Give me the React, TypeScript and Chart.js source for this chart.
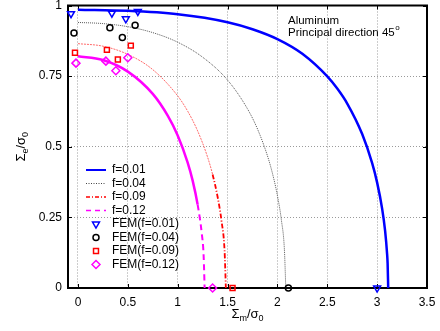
import React, { useEffect, useRef } from 'react';
import { Chart, registerables } from 'chart.js';
import { drawPoint } from 'chart.js/helpers';

Chart.register(...registerables);

const FONT = '"Liberation Sans", Arial, Helvetica, sans-serif';

// Axis ticks
const xTickValues = [0, 0.5, 1, 1.5, 2, 2.5, 3, 3.5];
const yTickValues = [0, 0.25, 0.5, 0.75, 1];

// Analytical curves (Sigma_m / sigma_0, Sigma_e / sigma_0)
const f001M = [0, 0.5, 1.0, 1.5, 1.75, 2.0, 2.25, 2.5, 2.6, 2.7, 2.85, 2.95, 3.0, 3.05, 3.08, 3.1, 3.105, 3.111];
const f001E = [0.985, 0.981, 0.969, 0.941, 0.916, 0.881, 0.829, 0.749, 0.706, 0.653, 0.545, 0.442, 0.373, 0.281, 0.202, 0.12, 0.088, 0];

const f004M = [0, 0.25, 0.5, 0.75, 1.0, 1.25, 1.5, 1.7, 1.8, 1.9, 1.95, 2.0, 2.04, 2.07, 2.084];
const f004E = [0.94, 0.936, 0.925, 0.904, 0.87, 0.817, 0.736, 0.634, 0.563, 0.468, 0.406, 0.327, 0.24, 0.136, 0];

const f009M = [0, 0.25, 0.5, 0.75, 1.0, 1.1, 1.2, 1.3, 1.35, 1.4, 1.44, 1.47, 1.483];
const f009E = [0.865, 0.856, 0.827, 0.773, 0.68, 0.626, 0.556, 0.463, 0.402, 0.323, 0.236, 0.132, 0];

const f012M = [0, 0.25, 0.5, 0.75, 0.9, 1.0, 1.1, 1.15, 1.2, 1.24, 1.26, 1.27];
const f012E = [0.82, 0.807, 0.766, 0.687, 0.61, 0.54, 0.444, 0.38, 0.295, 0.197, 0.115, 0];

// FEM results
const fem001M = [-0.07, 0.34, 0.48, 0.6, 3.0];
const fem001E = [0.971, 0.973, 0.953, 0.979, 0];
const fem004M = [-0.04, 0.32, 0.445, 0.573, 2.11];
const fem004E = [0.903, 0.921, 0.887, 0.93, 0];
const fem009M = [-0.03, 0.29, 0.4, 0.53, 1.55];
const fem009E = [0.833, 0.843, 0.809, 0.858, 0];
const fem012M = [-0.02, 0.28, 0.38, 0.5, 1.35];
const fem012E = [0.796, 0.803, 0.769, 0.815, 0];

const seriesLabels = ['f=0.01', 'f=0.04', 'f=0.09', 'f=0.12', 'FEM(f=0.01)', 'FEM(f=0.04)', 'FEM(f=0.09)', 'FEM(f=0.12)'];

const zip = (xs: number[], ys: number[]) => xs.map((x, i) => ({ x, y: ys[i] }));

const legendLineStyles = [
  { color: '#0000ff', width: 2, dash: [] as number[] },
  { color: '#444444', width: 1, dash: [1, 1.5] },
  { color: '#ff0000', width: 1.5, dash: [4, 2, 1, 2] },
  { color: '#ff00ff', width: 1.5, dash: [5, 4] },
];

function drawParts(ctx: CanvasRenderingContext2D, parts: { t: string; sub: boolean }[], cx: number, cy: number, rotate: boolean) {
  ctx.save();
  ctx.translate(cx, cy);
  if (rotate) ctx.rotate(-Math.PI / 2);
  const main = `13px ${FONT}`;
  const small = `9px ${FONT}`;
  let total = 0;
  for (const p of parts) {
    ctx.font = p.sub ? small : main;
    total += ctx.measureText(p.t).width;
  }
  let x = -total / 2;
  ctx.fillStyle = '#000';
  ctx.textAlign = 'left';
  ctx.textBaseline = 'alphabetic';
  for (const p of parts) {
    ctx.font = p.sub ? small : main;
    ctx.fillText(p.t, x, p.sub ? 7 : 4);
    x += ctx.measureText(p.t).width;
  }
  ctx.restore();
}

const framePlugin = {
  id: 'frame',
  beforeDatasetsDraw(chart: any) {
    const { ctx, chartArea: a, scales } = chart;
    ctx.save();
    ctx.setLineDash([]);
    ctx.strokeStyle = '#000';
    ctx.lineWidth = 1;
    ctx.beginPath();
    for (const v of xTickValues) {
      const px = Math.round(scales.x.getPixelForValue(v)) + 0.5;
      ctx.moveTo(px, a.bottom);
      ctx.lineTo(px, a.bottom - 4);
      ctx.moveTo(px, a.top);
      ctx.lineTo(px, a.top + 4);
    }
    for (const v of yTickValues) {
      const py = Math.round(scales.y.getPixelForValue(v)) + 0.5;
      ctx.moveTo(a.left, py);
      ctx.lineTo(a.left + 4, py);
      ctx.moveTo(a.right, py);
      ctx.lineTo(a.right - 4, py);
    }
    ctx.stroke();
    ctx.lineWidth = 2;
    ctx.strokeRect(a.left, a.top, a.right - a.left, a.bottom - a.top);
    ctx.restore();
  },
  afterDraw(chart: any) {
    const { ctx, chartArea: a } = chart;
    ctx.save();
    // Legend
    const x0 = a.left + 18;
    const x1 = a.left + 38;
    const tx = a.left + 44;
    const y0 = a.bottom - 118;
    ctx.font = `12px ${FONT}`;
    ctx.textBaseline = 'middle';
    ctx.textAlign = 'left';
    chart.data.datasets.forEach((ds: any, i: number) => {
      const y = y0 + i * 13.5;
      if (i < 4) {
        const st = legendLineStyles[i];
        ctx.save();
        ctx.strokeStyle = st.color;
        ctx.lineWidth = st.width;
        ctx.setLineDash(st.dash);
        ctx.beginPath();
        ctx.moveTo(x0, y);
        ctx.lineTo(x1, y);
        ctx.stroke();
        ctx.restore();
      } else {
        ctx.save();
        ctx.strokeStyle = ds.borderColor;
        ctx.fillStyle = 'rgba(0,0,0,0)';
        ctx.lineWidth = 1.5;
        drawPoint(ctx, {
          pointStyle: ds.pointStyle,
          rotation: ds.pointRotation || 0,
          radius: ds.pointRadius,
          borderWidth: 1.5,
        } as any, (x0 + x1) / 2, y);
        ctx.restore();
      }
      ctx.fillStyle = '#000';
      ctx.fillText(ds.label, tx, y);
    });
    // Annotation
    ctx.font = `11.5px ${FONT}`;
    ctx.textBaseline = 'alphabetic';
    ctx.fillText('Aluminum', 288, 24);
    const line2 = 'Principal direction 45';
    ctx.fillText(line2, 288, 36);
    const w = ctx.measureText(line2).width;
    ctx.font = `8px ${FONT}`;
    ctx.fillText('o', 288 + w + 0.5, 30);
    ctx.restore();
    // Axis titles
    drawParts(ctx, [
      { t: 'Σ', sub: false }, { t: 'm', sub: true }, { t: '/σ', sub: false }, { t: '0', sub: true },
    ], (a.left + a.right) / 2, 314, false);
    drawParts(ctx, [
      { t: 'Σ', sub: false }, { t: 'e', sub: true }, { t: '/σ', sub: false }, { t: '0', sub: true },
    ], 21, (a.top + a.bottom) / 2, true);
  },
};

export default function App() {
  const ref = useRef<HTMLCanvasElement>(null);
  useEffect(() => {
    document.body.style.margin = '0';
    const lineBase = {
      showLine: true,
      pointRadius: 0,
      pointHoverRadius: 0,
      cubicInterpolationMode: 'monotone' as const,
      fill: false,
      order: 2,
      clip: false as any,
    };
    const markBase = {
      showLine: false,
      backgroundColor: 'rgba(0,0,0,0)',
      pointBorderWidth: 1.5,
      order: 1,
      clip: false as any,
    };
    const chart = new Chart(ref.current as HTMLCanvasElement, {
      type: 'scatter',
      data: {
        datasets: [
          { ...lineBase, label: seriesLabels[0], data: zip(f001M, f001E), borderColor: '#0000ff', borderWidth: 2.5 },
          { ...lineBase, label: seriesLabels[1], data: zip(f004M, f004E), borderColor: '#555555', borderWidth: 1, borderDash: [1, 1] },
          {
            ...lineBase, label: seriesLabels[2], data: zip(f009M, f009E), borderColor: '#ff0000', borderWidth: 1,
            segment: {
              borderColor: (c: any) => (c.p0.parsed.y < 0.46 ? '#ff0000' : 'rgba(255,90,90,0.9)'),
              borderWidth: (c: any) => (c.p0.parsed.y < 0.46 ? 1.8 : 1),
              borderDash: (c: any) => (c.p0.parsed.y < 0.46 ? [5, 2, 1, 2] : [2, 1]),
            },
          },
          {
            ...lineBase, label: seriesLabels[3], data: zip(f012M, f012E), borderColor: '#ff00ff', borderWidth: 2.5,
            segment: {
              borderWidth: (c: any) => (c.p0.parsed.y < 0.3 ? 2 : 2.5),
              borderDash: (c: any) => (c.p0.parsed.y < 0.3 ? [6, 4] : []),
            },
          },
          { ...markBase, label: seriesLabels[4], data: zip(fem001M, fem001E), borderColor: '#0000ff', pointStyle: 'triangle', pointRotation: 180, pointRadius: 4 },
          { ...markBase, label: seriesLabels[5], data: zip(fem004M, fem004E), borderColor: '#000000', pointStyle: 'circle', pointRadius: 3 },
          { ...markBase, label: seriesLabels[6], data: zip(fem009M, fem009E), borderColor: '#ff0000', pointStyle: 'rect', pointRadius: 3.5 },
          { ...markBase, label: seriesLabels[7], data: zip(fem012M, fem012E), borderColor: '#ff00ff', pointStyle: 'rectRot', pointRadius: 4 },
        ] as any,
      },
      options: {
        responsive: false,
        animation: false,
        devicePixelRatio: 1,
        layout: { padding: { left: 0, top: 5, right: 13, bottom: 0 } },
        plugins: { legend: { display: false }, tooltip: { enabled: false } },
        scales: {
          x: {
            type: 'linear',
            min: -0.1,
            max: 3.5,
            afterBuildTicks: (s: any) => { s.ticks = xTickValues.map((v) => ({ value: v })); },
            afterFit: (s: any) => { s.height = 43; s.paddingLeft = 0; s.paddingRight = 0; },
            ticks: { font: { family: FONT, size: 12 }, color: '#000', padding: 7, maxRotation: 0, callback: (v: any) => String(v) },
            grid: { color: '#9a9a9a', lineWidth: 1, drawTicks: false },
            border: { display: false, dash: [1, 2] },
          },
          y: {
            type: 'linear',
            min: 0,
            max: 1,
            afterBuildTicks: (s: any) => { s.ticks = yTickValues.map((v) => ({ value: v })); },
            afterFit: (s: any) => { s.width = 68; s.paddingTop = 0; s.paddingBottom = 0; },
            ticks: { font: { family: FONT, size: 12 }, color: '#000', padding: 6, callback: (v: any) => String(v) },
            grid: { color: '#9a9a9a', lineWidth: 1, drawTicks: false },
            border: { display: false, dash: [1, 2] },
          },
        },
      } as any,
      plugins: [framePlugin],
    });
    return () => chart.destroy();
  }, []);
  return (
    <div style={{ width: 440, height: 331, position: 'relative' }}>
      <canvas ref={ref} width={440} height={331} style={{ display: 'block' }} />
    </div>
  );
}
